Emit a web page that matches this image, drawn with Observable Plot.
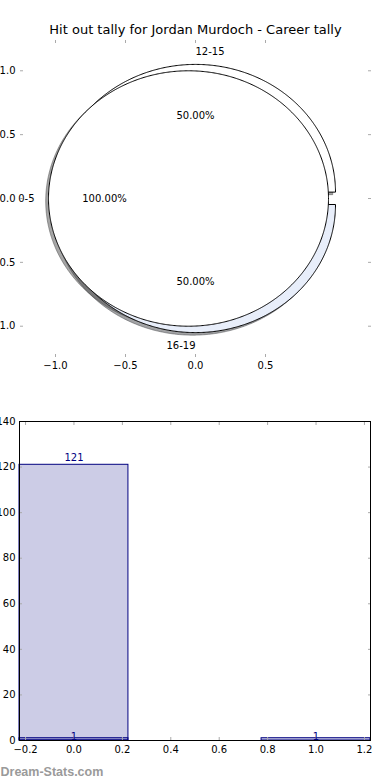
<!DOCTYPE html>
<html><head><meta charset="utf-8">
<script src="https://cdn.jsdelivr.net/npm/d3@7"></script>
<script src="https://cdn.jsdelivr.net/npm/@observablehq/plot@0.6"></script>
<style>
body{margin:0;background:#fff;}
#chart{width:390px;height:780px;position:relative;overflow:hidden;background:#fff;}
#chart svg{display:block;}
</style></head><body><div id="chart"></div>
<script>
// ---- data ----
const chartTitle = "Hit out tally for Jordan Murdoch - Career tally";
const pieLabelsA = ["0-5"];
const pieValuesA = [1];
const pieLabelsB = ["12-15", "16-19"];
const pieValuesB = [1, 1];
const pieXTicks = [-1, -0.5, 0, 0.5];
const pieYTicks = [-1, -0.5, 0, 0.5, 1];
const barX = [0, 0, 1];
const barValues = [121, 1, 1];
const barXTicks = [-0.2, 0, 0.2, 0.4, 0.6, 0.8, 1.0, 1.2];
const barYTicks = [0, 20, 40, 60, 80, 100, 120, 140];
const watermark = "Dream-Stats.com";

// ---- styles ----
const pieColorsA = ["#ffffff"];
const pieColorsB = ["#ffffff", "#e8eefa"];
const explode = 0.05;
const navy = "#000080";
const tickGray = "#aaaaaa";

function wedges(labels, values, colors) {
  const total = d3.sum(values);
  let a = 0;
  return labels.map((label, i) => {
    const span = 360 * values[i] / total;
    const t1 = a, t2 = a + span; a = t2;
    const mid = (t1 + t2) / 2 * Math.PI / 180;
    return {label, pct: 100 * values[i] / total, t1, t2, mid,
      cx: explode * Math.cos(mid), cy: explode * Math.sin(mid), color: colors[i]};
  });
}
function outline(w, ox = 0, oy = 0) {
  const pts = [];
  const full = w.t2 - w.t1 >= 360 - 1e-9;
  if (!full) pts.push([w.cx + ox, w.cy + oy]);
  const n = Math.ceil(w.t2 - w.t1) * 2;
  for (let k = 0; k <= n; k++) {
    const t = (w.t1 + (w.t2 - w.t1) * k / n) * Math.PI / 180;
    pts.push([w.cx + ox + Math.cos(t), w.cy + oy + Math.sin(t)]);
  }
  return pts;
}
function shade(c) {
  const r = d3.rgb(c);
  return d3.rgb(r.r * 0.3, r.g * 0.3, r.b * 0.3).formatHex();
}
const wA = wedges(pieLabelsA, pieValuesA, pieColorsA);
const wB = wedges(pieLabelsB, pieValuesB, pieColorsB);
const drawOrder = [...wB, ...wA];

const pieMarks = [];
for (const w of drawOrder) {
  const sc = shade(w.color);
  pieMarks.push(Plot.line(outline(w, -0.02, -0.02), {x: d => d[0], y: d => d[1], curve: "linear-closed",
    fill: sc, fillOpacity: 0.5, stroke: sc, strokeOpacity: 0.5, strokeWidth: 1}));
}
for (const w of drawOrder) {
  pieMarks.push(Plot.line(outline(w), {x: d => d[0], y: d => d[1], curve: "linear-closed",
    fill: w.color, stroke: "black", strokeWidth: 1}));
}
const labelPos = drawOrder.map(w => ({
  label: w.label,
  x: w.cx + 1.1 * Math.cos(w.mid), y: w.cy + 1.1 * Math.sin(w.mid),
  anchor: Math.cos(w.mid) > 0 ? "start" : "end",
  px: w.cx + 0.6 * Math.cos(w.mid), py: w.cy + 0.6 * Math.sin(w.mid),
  pct: d3.format(".2f")(w.pct) + "%"
}));
for (const anchor of ["start", "end"]) {
  pieMarks.push(Plot.text(labelPos.filter(d => d.anchor === anchor), {x: "x", y: "y", text: "label",
    textAnchor: anchor, fill: "black", fontSize: 10}));
}
pieMarks.push(Plot.text(labelPos, {x: "px", y: "py", text: "pct", fill: "black", fontSize: 10}));

const pie = Plot.plot({
  width: 390, height: 380,
  marginLeft: 20, marginRight: 20, marginTop: 39, marginBottom: 23,
  style: {fontFamily: "DejaVu Sans", fontSize: "10px", background: "white", color: "black"},
  x: {domain: [-1.25, 1.25]},
  y: {domain: [-1.245, 1.245]},
  marks: [
    ...pieMarks,
    Plot.axisX(pieXTicks, {anchor: "bottom", tickSize: 3, dy: -3, stroke: tickGray, fill: "none", label: null}),
    Plot.axisX(pieXTicks, {anchor: "top", tickSize: 3, dy: 3, stroke: tickGray, fill: "none", label: null}),
    Plot.axisY(pieYTicks, {anchor: "left", tickSize: 3, dx: 3, stroke: tickGray, fill: "none", label: null}),
    Plot.axisY(pieYTicks, {anchor: "right", tickSize: 3, dx: -3, stroke: tickGray, fill: "none", label: null}),
    Plot.axisX(pieXTicks, {anchor: "bottom", tickSize: 0, tickPadding: 4, tickFormat: d3.format(".1f"), label: null, fill: "black"}),
    Plot.axisY(pieYTicks, {anchor: "left", tickSize: 0, tickPadding: 5, tickFormat: d3.format(".1f"), label: null, fill: "black"}),
    Plot.text([chartTitle], {frameAnchor: "top", text: d => d, lineAnchor: "middle", dy: -9.5, fontSize: 13, fill: "black"})
  ]
});

const bars = barX.map((x, i) => ({x, v: barValues[i]}));
const barChart = Plot.plot({
  width: 390, height: 400,
  marginLeft: 19, marginRight: 20, marginTop: 41, marginBottom: 40,
  style: {fontFamily: "DejaVu Sans", fontSize: "10px", background: "white", color: "black"},
  x: {domain: [-0.225, 1.225]},
  y: {domain: [0, 140]},
  marks: [
    Plot.rect(bars, {x1: d => d.x - 0.225, x2: d => d.x + 0.225, y1: 0, y2: "v",
      fill: navy, fillOpacity: 0.2, stroke: navy, strokeWidth: 1}),
    Plot.axisX(barXTicks, {anchor: "bottom", tickSize: 3, dy: -3, stroke: tickGray, fill: "none", label: null}),
    Plot.axisX(barXTicks, {anchor: "top", tickSize: 3, dy: 3, stroke: tickGray, fill: "none", label: null}),
    Plot.axisY(barYTicks, {anchor: "left", tickSize: 3, dx: 3, stroke: tickGray, fill: "none", label: null}),
    Plot.axisY(barYTicks, {anchor: "right", tickSize: 3, dx: -3, stroke: tickGray, fill: "none", label: null}),
    Plot.axisX(barXTicks, {anchor: "bottom", tickSize: 0, tickPadding: 5, tickFormat: d3.format(".1f"), label: null, fill: "black"}),
    Plot.axisY(barYTicks, {anchor: "left", tickSize: 0, tickPadding: 4, tickFormat: d3.format("d"), label: null, fill: "black"}),
    Plot.frame({stroke: "black", strokeWidth: 1}),
    Plot.text(bars.filter(d => d.v >= 5), {x: "x", y: "v", text: d => String(d.v), fill: navy, lineAnchor: "bottom", dy: -4, fontSize: 10}),
    Plot.text(bars.filter(d => d.v < 5), {x: "x", y: "v", text: d => String(d.v), fill: navy, lineAnchor: "bottom", dy: 1.5, fontSize: 10}),
    Plot.text([watermark], {frameAnchor: "bottom-left", text: d => d, textAnchor: "start", lineAnchor: "middle", dx: -19, dy: 31,
      fontSize: 12.5, fontWeight: "bold", fontFamily: "Liberation Sans", fill: "#9a9a9a"})
  ]
});

const el = document.getElementById("chart");
el.appendChild(pie);
el.appendChild(barChart);
</script>
</body></html>
